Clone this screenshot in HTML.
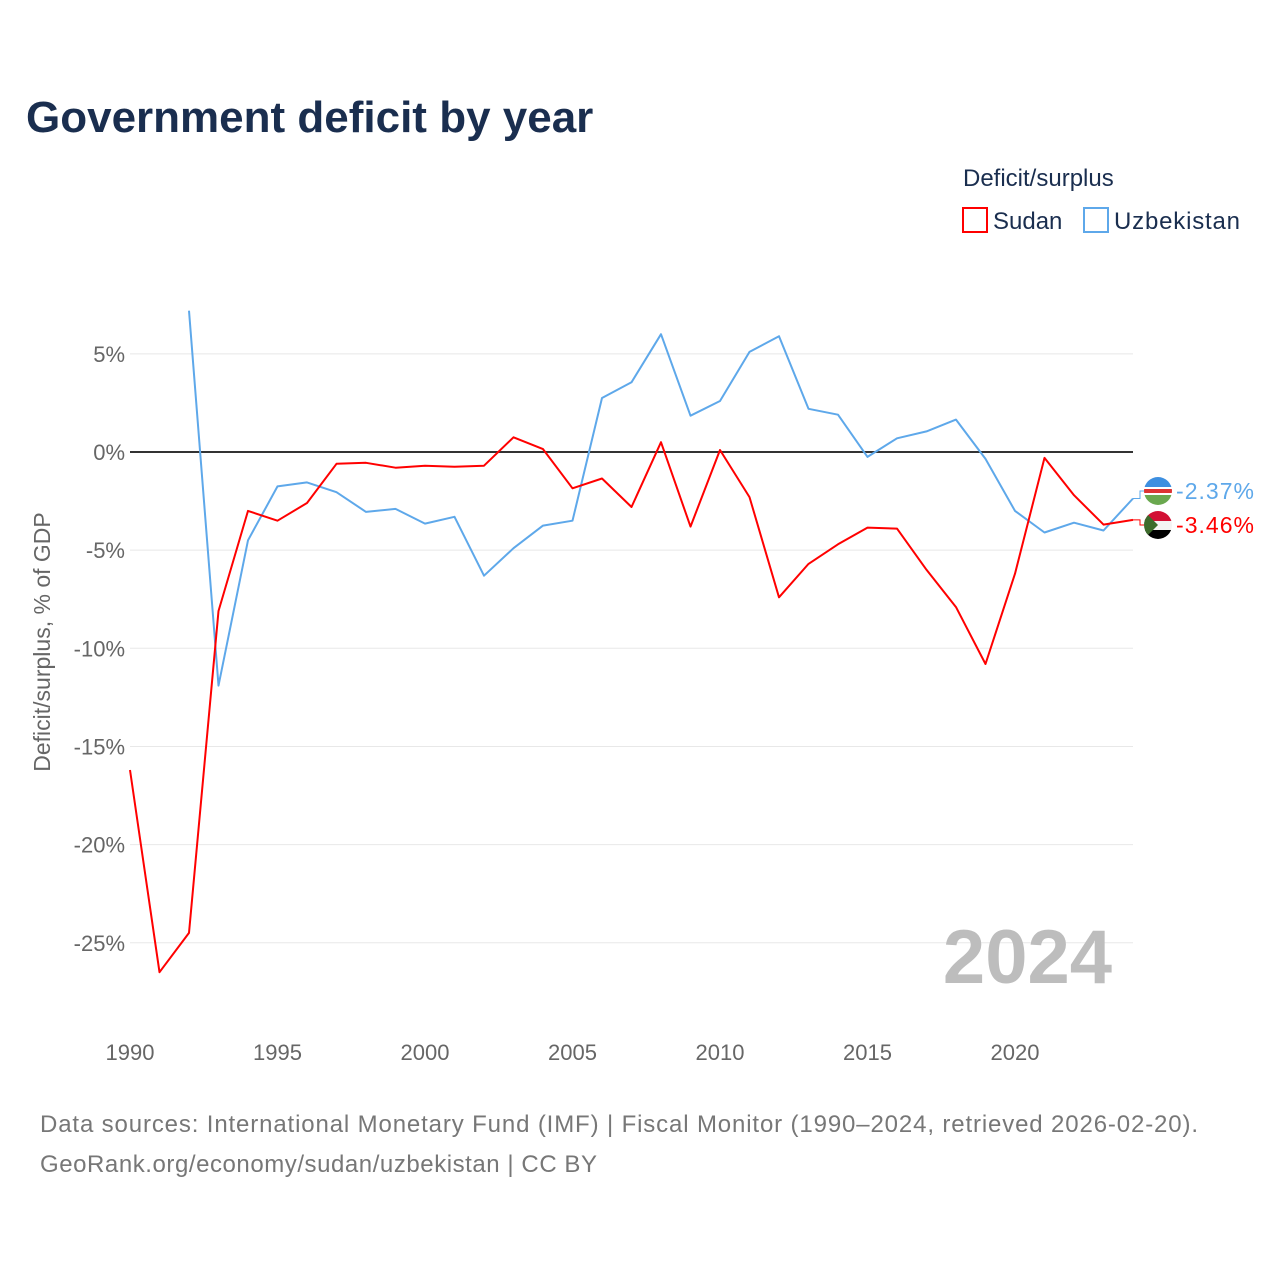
<!DOCTYPE html>
<html><head><meta charset="utf-8">
<style>
body{margin:0;background:#fff;font-family:"Liberation Sans",sans-serif;}
svg text{font-family:"Liberation Sans",sans-serif;}
</style></head>
<body>
<svg id="chart" width="1280" height="1280" viewBox="0 0 1280 1280" xmlns="http://www.w3.org/2000/svg">
<text x="26" y="132" font-size="44" font-weight="bold" fill="#1a2e4f">Government deficit by year</text>
<text x="963" y="186" font-size="24" fill="#1a2e4f">Deficit/surplus</text>
<g><rect x="963" y="208" width="24" height="24" fill="none" stroke="#ff0000" stroke-width="2"/><text x="993" y="229" font-size="24" fill="#1a2e4f">Sudan</text></g>
<g><rect x="1084" y="208" width="24" height="24" fill="none" stroke="#5ea8ea" stroke-width="2"/><text x="1114" y="229" font-size="24" fill="#1a2e4f" textLength="126">Uzbekistan</text></g>
<text transform="translate(50,642) rotate(-90)" text-anchor="middle" font-size="23" fill="#666">Deficit/surplus, % of GDP</text>
<g id="grid"></g><g id="series"></g>
<text x="1112" y="983" text-anchor="end" font-size="76" font-weight="bold" fill="#bdbdbd">2024</text>
<text x="40" y="1132" font-size="24" fill="#777" textLength="1158">Data sources: International Monetary Fund (IMF) | Fiscal Monitor (1990–2024, retrieved 2026-02-20).</text>
<text x="40" y="1172" font-size="24" fill="#777" textLength="557">GeoRank.org/economy/sudan/uzbekistan | CC BY</text>
</svg>
<script>
const years=[];for(let y=1990;y<=2024;y++)years.push(y);
const sudan=[-16.2,-26.5,-24.5,-8.1,-3.0,-3.5,-2.6,-0.6,-0.55,-0.8,-0.7,-0.75,-0.7,0.75,0.15,-1.85,-1.35,-2.8,0.5,-3.8,0.1,-2.3,-7.4,-5.7,-4.7,-3.85,-3.9,-6.0,-7.9,-10.8,-6.2,-0.3,-2.2,-3.7,-3.46];
const uzbek=[null,null,7.2,-11.9,-4.5,-1.75,-1.55,-2.05,-3.05,-2.9,-3.65,-3.3,-6.3,-4.9,-3.75,-3.5,2.75,3.55,6.0,1.85,2.6,5.1,5.9,2.2,1.9,-0.25,0.7,1.05,1.65,-0.35,-3.0,-4.1,-3.6,-4.0,-2.37];
const yTicks=[5,0,-5,-10,-15,-20,-25];
const xTicks=[1990,1995,2000,2005,2010,2015,2020];
const NS="http://www.w3.org/2000/svg";
const xs=y=>130+(y-1990)*(1003/34);
const ys=v=>452-v*19.63;
function mk(t,a,p){const e=document.createElementNS(NS,t);for(const k in a)e.setAttribute(k,a[k]);p.appendChild(e);return e;}
const grid=document.getElementById('grid'),ser=document.getElementById('series');
yTicks.forEach(v=>{
 const l=mk('line',{x1:130,x2:1133,y1:ys(v),y2:ys(v),stroke:v===0?'#333':'#e8e8e8','stroke-width':v===0?2:1},grid);
 
 
 const t=mk('text',{x:125,y:ys(v)+8,'text-anchor':'end','font-size':22,fill:'#666'},grid);t.textContent=v+'%';
 
 
});
xTicks.forEach(y=>{
 const t=mk('text',{x:xs(y),y:1060,'text-anchor':'middle','font-size':22,fill:'#666'},grid);t.textContent=y;
 
 
});
function line(vals,color,name){
 let d='';vals.forEach((v,i)=>{if(v===null)return;d+=(d?'L':'M')+xs(years[i]).toFixed(1)+','+ys(v).toFixed(1);});
 const p=mk('path',{d:d,fill:'none',stroke:color,'stroke-width':2,'stroke-linejoin':'round'},ser);
 
 
}
line(uzbek,'#5ea8ea','uzbekistan-line');
line(sudan,'#ff0000','sudan-line');
function endLabel(v,ly,color,name,flag){
 const g=mk('g',{},ser);
 
 
 mk('path',{d:`M${xs(2024)},${ys(v)}L1140,${ys(v)}L1140,${ly}L1146,${ly}`,fill:'none',stroke:color,'stroke-width':1},g);
 flag(g,1158,ly);
 const t=mk('text',{x:1176,y:ly+8,'font-size':23,fill:color,textLength:78},g);t.textContent=v.toFixed(2)+'%';
}
endLabel(-2.37,491,'#5ea8ea','uzbekistan-end-label',(g,cx,cy)=>{
 const c=mk('clipPath',{id:'c1'},g);mk('circle',{cx:cx,cy:cy,r:14},c);
 const f=mk('g',{'clip-path':'url(#c1)'},g);
 mk('rect',{x:cx-14,y:cy-14,width:28,height:10,fill:'#3d8fe0'},f);
 mk('rect',{x:cx-14,y:cy-4,width:28,height:8,fill:'#fff'},f);
 mk('rect',{x:cx-14,y:cy-2,width:28,height:4,fill:'#d33'},f);
 mk('rect',{x:cx-14,y:cy+4,width:28,height:10,fill:'#6aa84f'},f);
});
endLabel(-3.46,525,'#ff0000','sudan-end-label',(g,cx,cy)=>{
 const c=mk('clipPath',{id:'c2'},g);mk('circle',{cx:cx,cy:cy,r:14},c);
 const f=mk('g',{'clip-path':'url(#c2)'},g);
 mk('rect',{x:cx-14,y:cy-14,width:28,height:10,fill:'#d21034'},f);
 mk('rect',{x:cx-14,y:cy-4,width:28,height:9,fill:'#f4f4f4'},f);
 mk('rect',{x:cx-14,y:cy+5,width:28,height:9,fill:'#000'},f);
 mk('path',{d:`M${cx-14},${cy-14}L${cx},${cy}L${cx-14},${cy+14}Z`,fill:'#3d6b2c'},f);
});
</script>
</body></html>
